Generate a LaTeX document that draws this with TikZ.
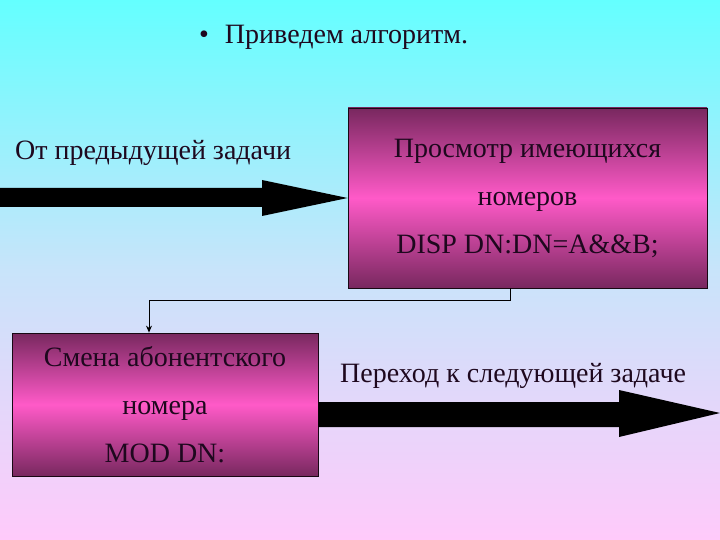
\documentclass[tikz,border=0pt]{standalone}
\usepackage{fontspec}
\setmainfont{Liberation Serif}
\newfontfamily\tnr{Liberation Serif}
\usetikzlibrary{arrows.meta}
\definecolor{bgtop}{RGB}{100,255,255}
\definecolor{bgmid}{RGB}{200,228,250}
\definecolor{bgbot}{RGB}{255,202,250}
\definecolor{boxdark}{RGB}{120,40,95}
\definecolor{boxpink}{RGB}{255,90,200}
\definecolor{txt}{RGB}{30,8,30}
\tikzset{
  procbox/.style={draw=black!80!boxdark, line width=0.8pt, top color=boxdark, bottom color=boxdark, middle color=boxpink,
    minimum width=#1, align=center, text=txt, font=\tnr\fontsize{28}{48}\selectfont, inner sep=0pt},
  lbl/.style={text=txt, font=\tnr\fontsize{28}{30}\selectfont, inner sep=0pt, anchor=base west},
  bigarrow/.style={fill=black}
}
\begin{document}
\begin{tikzpicture}[x=1pt,y=-1pt]
\useasboundingbox (0,0) rectangle (720,540);
\shade[top color=bgtop, bottom color=bgbot, middle color=bgmid] (0,0) rectangle (720,540);
\node[lbl] (title) at (199,44) {•\hspace{16pt}Приведем алгоритм.};
\node[lbl] (from) at (15,160) {От предыдущей задачи};
\node[lbl] (next) at (340,382) {Переход к следующей задаче};
\node[procbox=359pt, minimum height=180pt] (view) at (527.5,198) {Просмотр имеющихся\\номеров\\DISP DN:DN=A\&\&B;};
\node[procbox=306pt, minimum height=143pt] (mod) at (165,404.5) {Смена абонентского\\номера\\MOD DN:};
\fill[bigarrow] (0,188) -- (262,188) -- (262,180) -- (view.west) -- (262,216) -- (262,207) -- (0,207) -- cycle;
\coordinate (out) at (720,413);
\fill[bigarrow] (mod.east |- 0,402) -- (619,402) -- (619,390) -- (out) -- (619,437) -- (619,427) -- (mod.east |- 0,427) -- cycle;
\draw[line width=1pt, -{Stealth[length=7pt,width=6pt]}] ([xshift=-17pt]view.south) -- ++(0,12) -| ([xshift=-16pt]mod.north);
\end{tikzpicture}
\end{document}
